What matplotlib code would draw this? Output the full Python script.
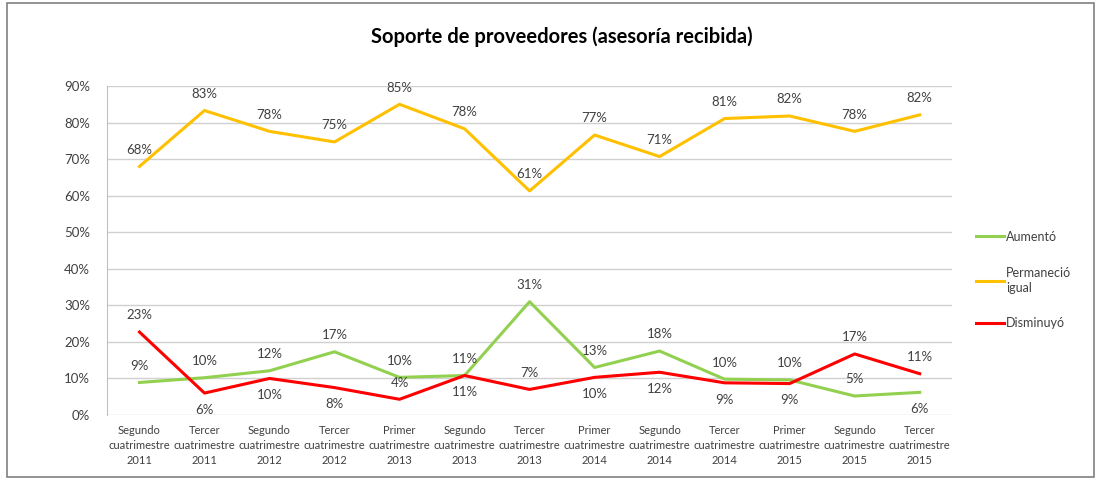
import numpy as np
import matplotlib
matplotlib.use('Agg')
import matplotlib.pyplot as plt
from matplotlib.patches import Rectangle

plt.rcParams['font.family'] = ['Lato', 'DejaVu Sans']

periods = ['Segundo\ncuatrimestre\n2011', 'Tercer\ncuatrimestre\n2011',
           'Segundo\ncuatrimestre\n2012', 'Tercer\ncuatrimestre\n2012',
           'Primer\ncuatrimestre\n2013', 'Segundo\ncuatrimestre\n2013',
           'Tercer\ncuatrimestre\n2013', 'Primer\ncuatrimestre\n2014',
           'Segundo\ncuatrimestre\n2014', 'Tercer\ncuatrimestre\n2014',
           'Primer\ncuatrimestre\n2015', 'Segundo\ncuatrimestre\n2015',
           'Tercer\ncuatrimestre\n2015']

aumento = [8.9, 10.2, 12.1, 17.3, 10.3, 10.8, 31.0, 13.0, 17.5, 9.8, 9.6, 5.2, 6.2]
permanecio = [68.0, 83.3, 77.6, 74.7, 85.0, 78.3, 61.3, 76.6, 70.7, 81.1, 81.8, 77.6, 82.1]
disminuyo = [22.7, 6.0, 10.0, 7.5, 4.3, 10.8, 7.0, 10.3, 11.7, 8.8, 8.6, 16.7, 11.3]

# label side per point: 1 above, -1 below
aumento_side = [1, 1, 1, 1, 1, 1, 1, 1, 1, 1, 1, 1, -1]
disminuyo_side = [1, -1, -1, -1, 1, -1, 1, -1, -1, -1, -1, 1, 1]
permanecio_side = [1] * 13

fig = plt.figure(figsize=(10.97, 4.80), dpi=100)
ax = fig.add_axes([0.0975, 0.1354, 0.7705, 0.6854])

x = np.arange(len(periods))
series = [
    ('Aumentó', aumento, '#92D050', aumento_side),
    ('Permaneció\nigual', permanecio, '#FFC000', permanecio_side),
    ('Disminuyó', disminuyo, '#FF0000', disminuyo_side),
]
for name, vals, color, side in series:
    ax.plot(x, vals, color=color, linewidth=2.2, label=name, zorder=3)
    for xi, v, s in zip(x, vals, side):
        ax.annotate(f'{round(v):d}%', (xi, v), xytext=(0, 12 * s),
                    textcoords='offset points', ha='center', va='center',
                    fontsize=9.5, color='#404040')

ax.set_xlim(-0.5, len(periods) - 0.5)
ax.set_ylim(0, 90)
ax.set_yticks(np.arange(0, 91, 10))
ax.set_yticklabels([f'{t}%' for t in range(0, 91, 10)])
ax.set_xticks(x)
ax.set_xticklabels(periods, fontsize=8, color='#404040', linespacing=1.45)
ax.tick_params(axis='y', labelsize=9.5, labelcolor='#404040', length=0, pad=12)
ax.tick_params(axis='x', length=0, pad=7)
ax.grid(axis='y', color='#D0D0D0', linewidth=1)
ax.set_axisbelow(True)
for sp in ['top', 'right', 'bottom']:
    ax.spines[sp].set_visible(False)
ax.spines['left'].set_color('#C0C0C0')

fig.suptitle('Soporte de proveedores (asesoría recibida)', x=0.512, y=0.945,
             fontsize=14.5, fontweight='bold', color='black')

leg = ax.legend(loc='center left', bbox_to_anchor=(1.015, 0.41), frameon=False,
                fontsize=9, handlelength=2.2, handletextpad=0.2,
                labelspacing=1.9, labelcolor='#404040')
for t in leg.get_texts():
    t.set_linespacing(1.3)

fig.patches.append(Rectangle((0.006, 0.006), 0.991, 0.988, transform=fig.transFigure,
                             fill=False, edgecolor='#808080', linewidth=1.2))

plt.savefig('out.png', dpi=100)
